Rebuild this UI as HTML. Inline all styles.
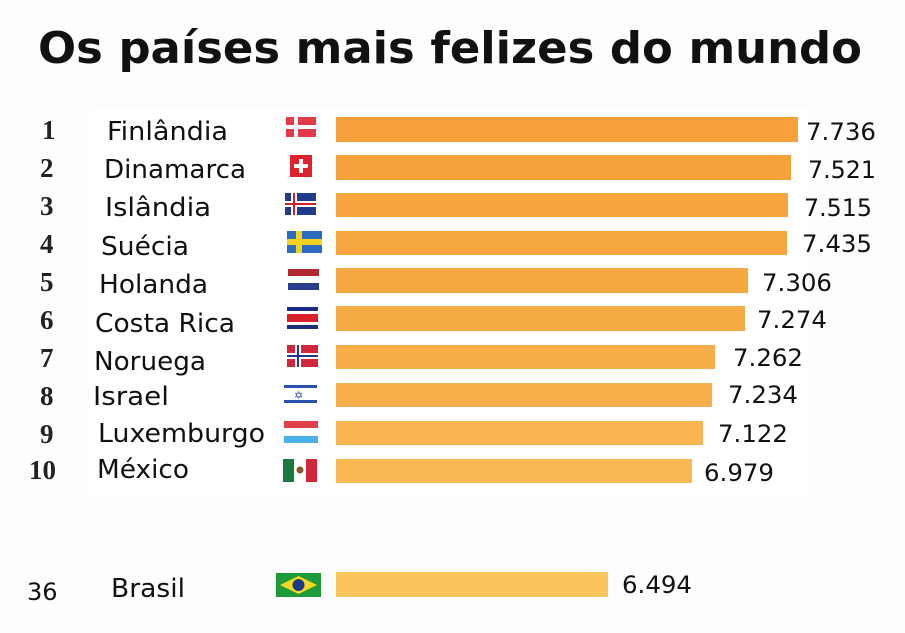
<!DOCTYPE html>
<html><head><meta charset="utf-8"><style>
html,body{margin:0;padding:0;background:#fff;}
svg{display:block}
.t{font-family:"DejaVu Sans","Liberation Sans",sans-serif;fill:#111}
.r{font-family:"Liberation Serif",serif;font-weight:bold;fill:#222;font-size:27px}
</style></head><body>
<svg width="905" height="633" viewBox="0 0 905 633" xmlns="http://www.w3.org/2000/svg">
<rect width="905" height="633" fill="#fdfdfd"/>
<rect x="90" y="108" width="720" height="390" fill="#fff"/>
<text class="t" x="38" y="63" font-size="44" font-weight="bold" textLength="824" lengthAdjust="spacingAndGlyphs">Os países mais felizes do mundo</text>
<g class="r">
<text x="42" y="139">1</text><text x="40" y="177">2</text><text x="40" y="215">3</text><text x="40" y="253">4</text><text x="40" y="291">5</text><text x="40" y="329">6</text><text x="40" y="367">7</text><text x="40" y="405">8</text><text x="40" y="443">9</text><text x="29" y="479">10</text>
</g>
<text class="t" x="27" y="600" font-size="24">36</text>
<g class="t" font-size="26">
<text x="107" y="140" textLength="121" lengthAdjust="spacingAndGlyphs">Finlândia</text>
<text x="104" y="178" textLength="142" lengthAdjust="spacingAndGlyphs">Dinamarca</text>
<text x="105" y="216" textLength="106" lengthAdjust="spacingAndGlyphs">Islândia</text>
<text x="101" y="255" textLength="88" lengthAdjust="spacingAndGlyphs">Suécia</text>
<text x="99" y="293" textLength="109" lengthAdjust="spacingAndGlyphs">Holanda</text>
<text x="95" y="332" textLength="140" lengthAdjust="spacingAndGlyphs">Costa Rica</text>
<text x="94" y="370" textLength="112" lengthAdjust="spacingAndGlyphs">Noruega</text>
<text x="93" y="405" textLength="76" lengthAdjust="spacingAndGlyphs">Israel</text>
<text x="98" y="442" textLength="167" lengthAdjust="spacingAndGlyphs">Luxemburgo</text>
<text x="97" y="478" textLength="92" lengthAdjust="spacingAndGlyphs">México</text>
<text x="111" y="597" textLength="74" lengthAdjust="spacingAndGlyphs">Brasil</text>
</g>
<g>
<rect x="336" y="117" width="462" height="25" fill="#f5a038"/>
<rect x="336" y="155" width="455" height="25" fill="#f5a23a"/>
<rect x="336" y="193" width="452" height="24" fill="#f6a43c"/>
<rect x="336" y="231" width="451" height="24" fill="#f6a63e"/>
<rect x="336" y="268" width="412" height="25" fill="#f6a840"/>
<rect x="336" y="306" width="409" height="25" fill="#f6aa44"/>
<rect x="336" y="345" width="379" height="24" fill="#f7ad48"/>
<rect x="336" y="383" width="376" height="24" fill="#f7b04c"/>
<rect x="336" y="421" width="367" height="24" fill="#f8b450"/>
<rect x="336" y="459" width="356" height="24" fill="#f9b854"/>
<rect x="336" y="572" width="272" height="25" fill="#fbc45c"/>
</g>
<g class="t" font-size="24">
<text x="806" y="140" textLength="70" lengthAdjust="spacingAndGlyphs">7.736</text>
<text x="808" y="178" textLength="68" lengthAdjust="spacingAndGlyphs">7.521</text>
<text x="804" y="216" textLength="68" lengthAdjust="spacingAndGlyphs">7.515</text>
<text x="802" y="252" textLength="70" lengthAdjust="spacingAndGlyphs">7.435</text>
<text x="762" y="291" textLength="70" lengthAdjust="spacingAndGlyphs">7.306</text>
<text x="757" y="328" textLength="70" lengthAdjust="spacingAndGlyphs">7.274</text>
<text x="733" y="366" textLength="70" lengthAdjust="spacingAndGlyphs">7.262</text>
<text x="728" y="403" textLength="70" lengthAdjust="spacingAndGlyphs">7.234</text>
<text x="718" y="442" textLength="70" lengthAdjust="spacingAndGlyphs">7.122</text>
<text x="704" y="481" textLength="70" lengthAdjust="spacingAndGlyphs">6.979</text>
<text x="622" y="593" textLength="70" lengthAdjust="spacingAndGlyphs">6.494</text>
</g>
<g>
<rect x="286" y="117" width="30" height="20" fill="#e23a4a"/><rect x="294" y="117" width="4" height="20" fill="#fff"/><rect x="286" y="125" width="30" height="4" fill="#fff"/>
<rect x="290" y="155" width="22" height="22" fill="#e0202a"/><rect x="299" y="159" width="4" height="14" fill="#fff"/><rect x="294" y="164" width="14" height="4" fill="#fff"/>
<rect x="285" y="193" width="31" height="22" fill="#1e3c8c"/><rect x="291" y="193" width="6" height="22" fill="#fff"/><rect x="285" y="201" width="31" height="6" fill="#fff"/><rect x="293" y="193" width="2" height="22" fill="#d0202a"/><rect x="285" y="203" width="31" height="2" fill="#d0202a"/>
<rect x="287" y="231" width="35" height="22" fill="#2a6cc0"/><rect x="296" y="231" width="6" height="22" fill="#f6d020"/><rect x="287" y="239" width="35" height="6" fill="#f6d020"/>
<rect x="288" y="269" width="31" height="7" fill="#b02830"/><rect x="288" y="276" width="31" height="7" fill="#fff"/><rect x="288" y="283" width="31" height="7" fill="#2a3c8c"/>
<rect x="287" y="307" width="31" height="22" fill="#1c2c80"/><rect x="287" y="311" width="31" height="14" fill="#fff"/><rect x="287" y="314" width="31" height="8" fill="#d8202a"/>
<rect x="287" y="345" width="31" height="22" fill="#d0283a"/><rect x="295" y="345" width="6" height="22" fill="#fff"/><rect x="287" y="353" width="31" height="6" fill="#fff"/><rect x="297" y="345" width="2" height="22" fill="#1e3c8c"/><rect x="287" y="355" width="31" height="2" fill="#1e3c8c"/>
<rect x="284" y="383" width="33" height="22" fill="#fff"/><rect x="284" y="385" width="33" height="3" fill="#2a50b0"/><rect x="284" y="400" width="33" height="3" fill="#2a50b0"/><text x="294" y="399" font-size="11" fill="#2a50b0">✡</text>
<rect x="284" y="421" width="34" height="22" fill="#fff"/><rect x="284" y="421" width="34" height="7" fill="#e0404a"/><rect x="284" y="436" width="34" height="7" fill="#4cb0e8"/>
<rect x="283" y="459" width="34" height="23" fill="#fff"/><rect x="283" y="459" width="11" height="23" fill="#1a7a40"/><rect x="306" y="459" width="11" height="23" fill="#d0283a"/><circle cx="300" cy="470" r="3.5" fill="#8a5a2a"/>
<rect x="276" y="573" width="45" height="24" fill="#1e9a3a"/><polygon points="298.5,576 317,585 298.5,594 280,585" fill="#f6d820"/><circle cx="298.5" cy="585" r="6" fill="#1e3a8a"/>
</g>
</svg>
</body></html>
